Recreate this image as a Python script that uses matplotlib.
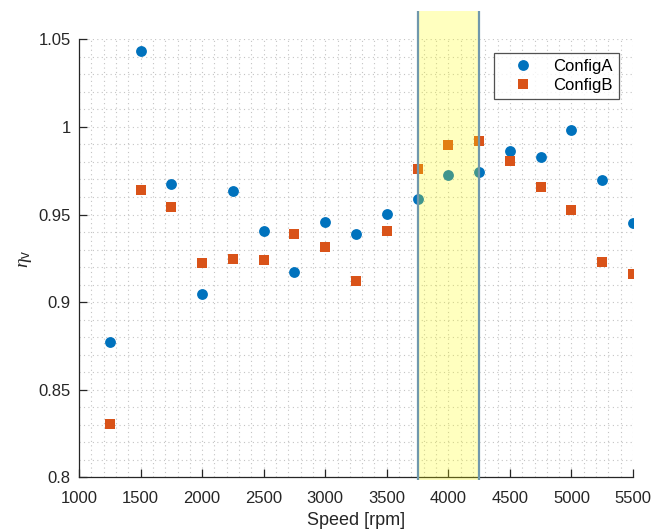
import numpy as np
import matplotlib
matplotlib.use("Agg")
import matplotlib.pyplot as plt
from matplotlib.ticker import MultipleLocator
from matplotlib.patches import Rectangle

plt.rcParams["font.family"] = ["Liberation Sans", "DejaVu Sans"]
plt.rcParams["mathtext.fontset"] = "custom"
plt.rcParams["mathtext.it"] = "Liberation Serif:italic"
plt.rcParams["mathtext.rm"] = "Liberation Sans"

# engine speed sweep and volumetric efficiency for both configurations
speed = [1250, 1500, 1750, 2000, 2250, 2500, 2750, 3000, 3250,
         3500, 3750, 4000, 4250, 4500, 4750, 5000, 5250, 5500]
eta_a = [0.877, 1.0435, 0.9672, 0.9047, 0.9632, 0.9407, 0.9174, 0.9458, 0.9390,
         0.9503, 0.9591, 0.9723, 0.9744, 0.9860, 0.9831, 0.9985, 0.9697, 0.9450]
eta_b = [0.8306, 0.9638, 0.9543, 0.9224, 0.9247, 0.9239, 0.9387, 0.9315, 0.9120,
         0.9404, 0.9761, 0.9894, 0.9917, 0.9803, 0.9657, 0.9528, 0.9230, 0.9163]

# highlighted speed window
band = (3750, 4250)

BLUE = "#0072BD"
ORANGE = "#D95319"
DARK = "#262626"

fig = plt.figure(figsize=(6.51, 5.32), dpi=100)
ax = fig.add_axes([0.1214, 0.1028, 0.8510, 0.8233])

ax.plot(speed, eta_a, "o", color=BLUE, markersize=7.8, markeredgewidth=0, label="ConfigA", zorder=3)
ax.plot(speed, eta_b, "s", color=ORANGE, markersize=7.6, markeredgewidth=0, label="ConfigB", zorder=3)

ax.set_xlim(1000, 5500)
ax.set_ylim(0.8, 1.05)

# band is drawn over the markers and runs a little past the axes
rect = Rectangle((band[0], 0.7985), band[1] - band[0], 1.0662 - 0.7985,
                 facecolor=(1, 1, 0, 0.25), edgecolor="none", zorder=4, clip_on=False)
ax.add_patch(rect)
for xv in band:
    ax.plot([xv, xv], [0.7985, 1.0662], color="#7098ac", lw=1.6, zorder=4,
            clip_on=False, solid_capstyle="butt")

ax.xaxis.set_major_locator(MultipleLocator(500))
ax.xaxis.set_minor_locator(MultipleLocator(100))
ax.yaxis.set_major_locator(MultipleLocator(0.05))
ax.yaxis.set_minor_locator(MultipleLocator(0.01))
ax.set_yticks([0.8, 0.85, 0.9, 0.95, 1.0, 1.05])
ax.set_yticklabels(["0.8", "0.85", "0.9", "0.95", "1", "1.05"])

ax.grid(True, which="both", linestyle=(0, (1, 3)), color="#c4c4c4", linewidth=0.8)
ax.set_axisbelow(True)

for side in ("top", "right"):
    ax.spines[side].set_visible(False)
for side in ("left", "bottom"):
    ax.spines[side].set_color(DARK)
    ax.spines[side].set_linewidth(0.9)

ax.tick_params(which="major", direction="in", length=5.5, width=0.9, colors=DARK,
               labelsize=12)
ax.tick_params(axis="x", which="major", pad=10)
ax.tick_params(axis="y", which="major", pad=6)
ax.tick_params(which="minor", length=0)

ax.set_xlabel("Speed [rpm]", fontsize=13, color=DARK, labelpad=4)
ax.set_ylabel(r"$\eta_\mathrm{v}$", fontsize=14, color=DARK, labelpad=3)

leg = ax.legend(loc="upper right", bbox_to_anchor=(0.9747, 0.969), borderaxespad=0,
                fontsize=12, frameon=True, fancybox=False, borderpad=0.38,
                handletextpad=0.45, labelspacing=0.2, handlelength=2.7)
leg.get_frame().set_edgecolor(DARK)
leg.get_frame().set_linewidth(0.9)
leg.set_zorder(5)

fig.savefig("out.png", dpi=100)
